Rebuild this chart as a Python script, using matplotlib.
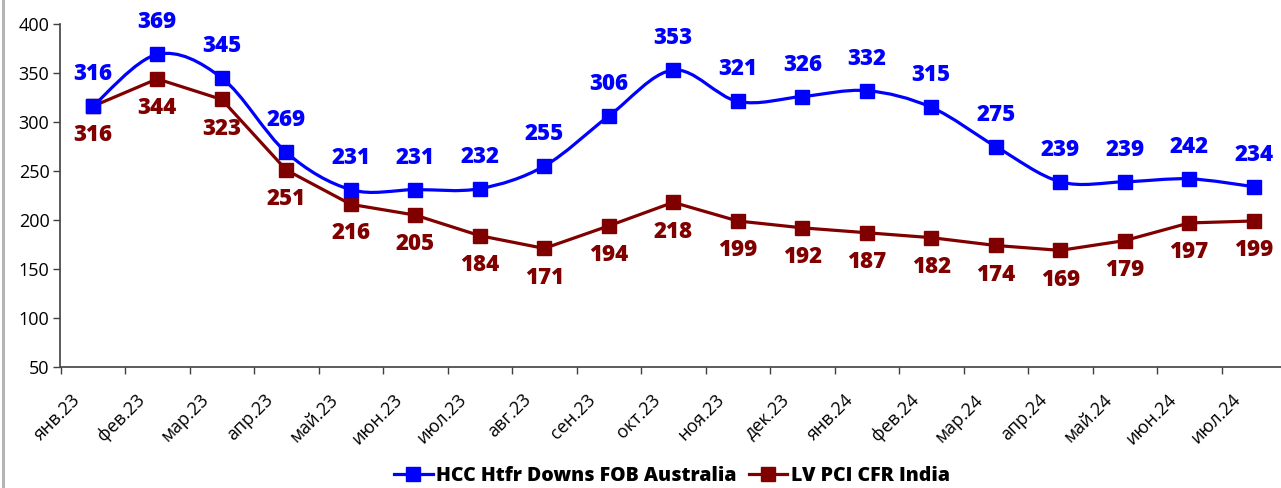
import numpy as np
import matplotlib
matplotlib.use("Agg")
import matplotlib.pyplot as plt
from matplotlib.lines import Line2D
from matplotlib.path import Path
from matplotlib.patches import PathPatch
import matplotlib.transforms as mtransforms

plt.rcParams['font.family'] = ['Open Sans', 'DejaVu Sans']

categories = ["янв.23", "фев.23", "мар.23", "апр.23", "май.23", "июн.23", "июл.23",
              "авг.23", "сен.23", "окт.23", "ноя.23", "дек.23", "янв.24", "фев.24",
              "мар.24", "апр.24", "май.24", "июн.24", "июл.24"]
hcc = [316, 369, 345, 269, 231, 231, 232, 255, 306, 353, 321, 326, 332, 315,
       275, 239, 239, 242, 234]
pci = [316, 344, 323, 251, 216, 205, 184, 171, 194, 218, 199, 192, 187, 182,
       174, 169, 179, 197, 199]
series_names = ["HCC Htfr Downs FOB Australia", "LV PCI CFR India"]
yticks = [50, 100, 150, 200, 250, 300, 350, 400]

BLUE = "#0000FF"
RED = "#800000"

W, H = 1281, 488
fig = plt.figure(figsize=(W / 100, H / 100), dpi=100)
ax = fig.add_axes([60.5 / W, 1 - 367 / H, (1286 - 60.5) / W, (367 - 24) / H])

x = np.arange(len(categories))


def smooth_path(xs, ys):
    pts = np.column_stack([xs, ys]).astype(float)
    n = len(pts)
    verts = [pts[0]]
    codes = [Path.MOVETO]
    for i in range(n - 1):
        p0 = pts[i - 1] if i > 0 else pts[i]
        p1 = pts[i]
        p2 = pts[i + 1]
        p3 = pts[i + 2] if i + 2 < n else pts[i + 1]
        c1 = p1 + (p2 - p0) / 6.0
        c2 = p2 - (p3 - p1) / 6.0
        verts += [c1, c2, p2]
        codes += [Path.CURVE4] * 3
    return Path(verts, codes)


lw = 2.3
ms = 10.5
ax.add_patch(PathPatch(smooth_path(x, hcc), fill=False, edgecolor=BLUE, lw=lw,
                       capstyle='round', joinstyle='round', zorder=3))
ax.plot(x, hcc, ls='none', marker='s', ms=ms, color=BLUE, zorder=4)
ax.plot(x, pci, color=RED, lw=lw, marker='s', ms=ms, zorder=3)

lab_fs = 16
lab_w = 800
for xi, v in zip(x, hcc):
    ax.annotate(str(v), (xi, v), xytext=(0, 23), textcoords='offset points',
                ha='center', va='center', color=BLUE, fontsize=lab_fs,
                fontweight=lab_w, zorder=5)
for xi, v in zip(x, pci):
    ax.annotate(str(v), (xi, v), xytext=(0, -21), textcoords='offset points',
                ha='center', va='center', color=RED, fontsize=lab_fs,
                fontweight=lab_w, zorder=5)

ax.set_xlim(-0.5, len(categories) - 0.5)
ax.set_ylim(50, 400)
ax.set_yticks(yticks)
ax.set_yticklabels([str(t) for t in yticks], fontsize=13)

ax.set_xticks(np.arange(len(categories) + 1) - 0.5)
ax.set_xticklabels([])
ax.set_xticks(x, minor=True)
ax.set_xticklabels(categories, minor=True, rotation=45, ha='right', va='top',
                   rotation_mode='anchor', fontsize=13)
ax.tick_params(axis='x', which='minor', length=0, pad=17)
ax.tick_params(axis='x', which='major', length=5, width=1, direction='out', color='#404040')
ax.tick_params(axis='y', length=5, width=1, direction='out', color='#404040', pad=3)

offset = mtransforms.ScaledTranslation(-22 / 100, 0, fig.dpi_scale_trans)
for lbl in ax.get_xticklabels(minor=True):
    lbl.set_transform(lbl.get_transform() + offset)

for s in ['top', 'right']:
    ax.spines[s].set_visible(False)
for s in ['left', 'bottom']:
    ax.spines[s].set_color('#404040')
    ax.spines[s].set_linewidth(1.2)

handles = [Line2D([], [], color=BLUE, lw=lw, marker='s', ms=ms),
           Line2D([], [], color=RED, lw=lw, marker='s', ms=ms)]
fig.legend(handles, series_names, loc='center', bbox_to_anchor=(672 / W, 1 - 476 / H),
           ncol=2, frameon=False, handlelength=2.0, handletextpad=0.2, columnspacing=0.6,
           prop={'weight': 800, 'size': 14})

fig.add_artist(Line2D([3 / W, 3 / W], [0, 1], transform=fig.transFigure,
                      color='#b4b4b4', lw=2.2))

fig.savefig("out.png", dpi=100)
